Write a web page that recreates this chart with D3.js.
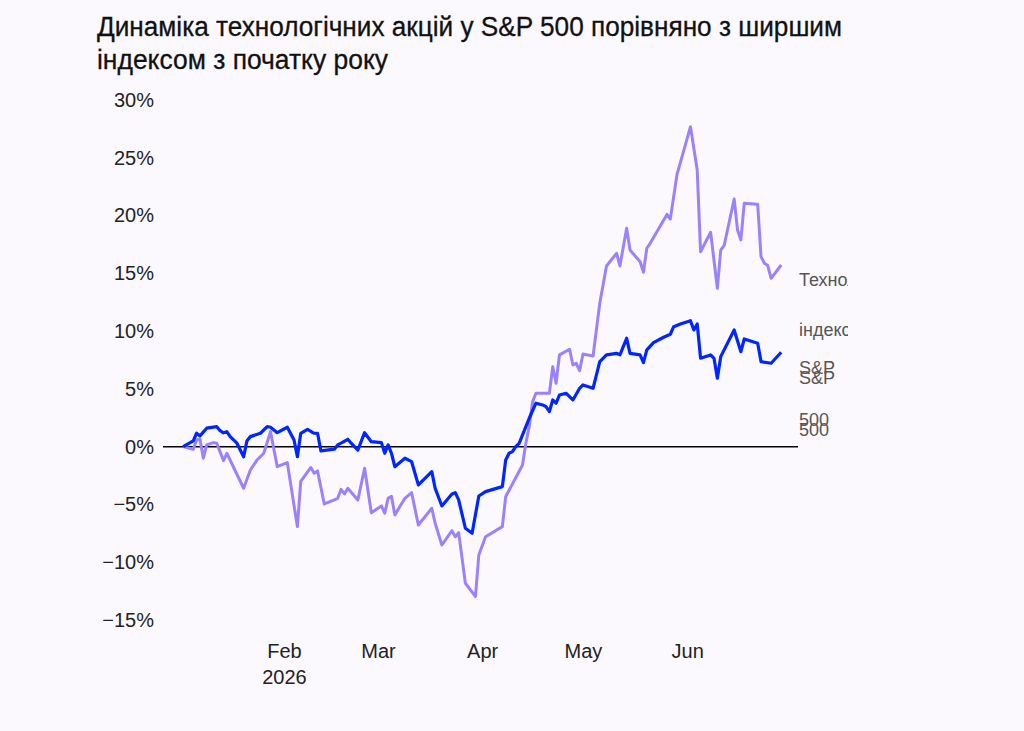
<!DOCTYPE html>
<html>
<head>
<meta charset="utf-8">
<script src="https://cdn.jsdelivr.net/npm/d3@7"></script>
<style>
  html, body { margin: 0; padding: 0; background: #fbf9fe; }
  svg { display: block; font-family: "Liberation Sans", Arial, sans-serif; }
</style>
</head>
<body>
<svg id="chart" width="1024" height="731"></svg>
<script>
// technology stocks (purple)
const techDates = ['2026-01-02','2026-01-05','2026-01-06','2026-01-07','2026-01-08','2026-01-09','2026-01-11','2026-01-12','2026-01-14','2026-01-15',
  '2026-01-20','2026-01-22','2026-01-24','2026-01-26','2026-01-28','2026-01-30','2026-02-02','2026-02-05','2026-02-06','2026-02-09',
  '2026-02-10','2026-02-11','2026-02-13','2026-02-16','2026-02-17','2026-02-18','2026-02-19','2026-02-20','2026-02-23','2026-02-25',
  '2026-02-27','2026-03-02','2026-03-03','2026-03-04','2026-03-05','2026-03-06','2026-03-09','2026-03-11','2026-03-13','2026-03-17',
  '2026-03-18','2026-03-20','2026-03-23','2026-03-24','2026-03-25','2026-03-27','2026-03-30','2026-03-31','2026-04-02','2026-04-07',
  '2026-04-08','2026-04-13','2026-04-14','2026-04-15','2026-04-16','2026-04-17','2026-04-21','2026-04-22','2026-04-23','2026-04-24',
  '2026-04-27','2026-04-28','2026-04-29','2026-04-30','2026-05-01','2026-05-04','2026-05-06','2026-05-08','2026-05-11','2026-05-12',
  '2026-05-14','2026-05-15','2026-05-18','2026-05-19','2026-05-20','2026-05-21','2026-05-23','2026-05-26','2026-05-27','2026-05-29',
  '2026-06-02','2026-06-04','2026-06-05','2026-06-08','2026-06-10','2026-06-11','2026-06-12','2026-06-15','2026-06-16','2026-06-17',
  '2026-06-18','2026-06-22','2026-06-23','2026-06-24','2026-06-25','2026-06-26','2026-06-29'];
const techValues = [0, -0.22, 0.58, 0.64, -1.0, 0.15, 0.35, 0.29, -1.21, -0.57,
  -3.6, -2.02, -1.15, -0.57, 1.3, -1.73, -1.38, -6.92, -3.0, -1.8,
  -2.3, -2.1, -4.96, -4.61, -4.47, -3.69, -4.09, -3.6, -4.61, -1.87,
  -5.71, -5.13, -5.76, -4.47, -4.3, -5.9, -4.47, -3.98, -6.78, -5.33,
  -6.63, -8.51, -7.27, -7.79, -7.44, -11.82, -12.98, -9.37, -7.79, -6.92,
  -4.33, -1.58, 0.29, 1.73, 3.89, 4.62, 4.62, 6.92, 5.49, 7.94,
  8.43, 7.07, 7.21, 6.58, 8.02, 7.85, 12.41, 15.64, 16.73, 15.64,
  18.9, 17.02, 16.0, 15.09, 17.17, 17.6, 18.6, 20.1, 19.7, 23.57,
  27.69, 23.94, 16.87, 18.55, 13.7, 17.02, 17.39, 21.43, 18.75, 17.89,
  21.06, 20.98, 16.44, 15.87, 15.67, 14.57, 15.72];

// broad index (blue)
const spxDates = ['2026-01-02','2026-01-05','2026-01-06','2026-01-07','2026-01-09','2026-01-12','2026-01-13','2026-01-14','2026-01-15','2026-01-16',
  '2026-01-18','2026-01-20','2026-01-21','2026-01-22','2026-01-25','2026-01-27','2026-01-28','2026-01-30','2026-02-02','2026-02-04',
  '2026-02-05','2026-02-06','2026-02-08','2026-02-10','2026-02-11','2026-02-12','2026-02-16','2026-02-17','2026-02-18','2026-02-20',
  '2026-02-21','2026-02-23','2026-02-25','2026-02-27','2026-03-02','2026-03-03','2026-03-04','2026-03-05','2026-03-06','2026-03-09',
  '2026-03-11','2026-03-13','2026-03-17','2026-03-18','2026-03-20','2026-03-23','2026-03-24','2026-03-25','2026-03-27','2026-03-29',
  '2026-03-31','2026-04-02','2026-04-07','2026-04-08','2026-04-09','2026-04-10','2026-04-11','2026-04-12','2026-04-14','2026-04-15',
  '2026-04-17','2026-04-19','2026-04-20','2026-04-21','2026-04-22','2026-04-23','2026-04-24','2026-04-26','2026-04-28','2026-04-30',
  '2026-05-01','2026-05-04','2026-05-06','2026-05-08','2026-05-11','2026-05-12','2026-05-14','2026-05-15','2026-05-18','2026-05-19',
  '2026-05-20','2026-05-22','2026-05-25','2026-05-27','2026-05-28','2026-05-30','2026-06-02','2026-06-03','2026-06-04','2026-06-05',
  '2026-06-08','2026-06-09','2026-06-10','2026-06-11','2026-06-15','2026-06-17','2026-06-18','2026-06-22','2026-06-23','2026-06-26',
  '2026-06-29'];
const spxValues = [0, 0.5, 1.16, 0.93, 1.6, 1.73, 1.38, 1.2, 1.3, 0.87,
  0.3, -0.87, 0.52, 0.87, 1.16, 1.73, 1.68, 1.21, 1.68, 0.58,
  -0.87, 1.16, 1.5, 1.16, 1.16, -0.37, -0.22, 0.15, 0.3, 0.64,
  0.3, -0.29, 1.21, 0.43, 0.35, -0.57, 0.15, -0.57, -1.73, -1.0,
  -1.3, -3.31, -2.16, -3.6, -5.13, -4.09, -3.98, -4.61, -7.06, -7.49,
  -4.27, -3.89, -3.46, -1.15, -0.57, -0.43, 0, 0.29, 1.73, 2.46,
  3.76, 3.61, 3.46, 3.03, 4.04, 3.76, 4.47, 4.62, 4.04, 5.05,
  5.34, 5.05, 7.36, 7.94, 8.08, 7.94, 9.38, 8.08, 7.94, 7.27,
  8.37, 9.0, 9.47, 9.73, 10.38, 10.62, 10.9, 10.1, 10.62, 7.65,
  7.94, 7.65, 5.92, 7.79, 10.1, 8.22, 9.32, 8.95, 7.36, 7.22,
  8.17];

const yTicks = [30, 25, 20, 15, 10, 5, 0, -5, -10, -15];
const monthTicks = ['2026-02-01', '2026-03-01', '2026-04-01', '2026-05-01', '2026-06-01'];
const titleLines = ['Динаміка технологічних акцій у S&P 500 порівняно з ширшим', 'індексом з початку року'];
const techLabel = ['Технологічний', 'індекс', 'S&P', '500'];
const spxLabel = ['S&P', '500'];

const parse = d3.timeParse('%Y-%m-%d');
const tech = techDates.map((d, i) => ({ date: parse(d), value: techValues[i] }));
const spx = spxDates.map((d, i) => ({ date: parse(d), value: spxValues[i] }));

const svg = d3.select('#chart');

svg.append('rect').attr('width', 1024).attr('height', 731).attr('fill', '#fbf9fe');

// title
const titleW = [745, 291];
titleLines.forEach((t, i) => {
  svg.append('text')
    .attr('x', 97)
    .attr('y', 36 + i * 33)
    .attr('font-size', 27)
    .attr('fill', '#111')
    .attr('stroke', '#111')
    .attr('stroke-width', 0.3)
    .attr('textLength', titleW[i])
    .attr('lengthAdjust', 'spacingAndGlyphs')
    .text(t);
});

const x = d3.scaleTime()
  .domain([parse('2025-12-27'), parse('2026-07-04')])
  .range([163, 798]);
const y = d3.scaleLinear()
  .domain([-15, 30])
  .range([620, 100]);

// y axis labels
const yAxis = d3.axisLeft(y)
  .tickValues(yTicks)
  .tickSize(0)
  .tickPadding(0)
  .tickFormat(d => (d < 0 ? '\u2212' + Math.abs(d) : d) + '%');
const gy = svg.append('g')
  .attr('transform', 'translate(154,0)')
  .call(yAxis);
gy.select('.domain').remove();
gy.selectAll('text')
  .attr('font-size', 20)
  .attr('fill', '#222')
  .attr('font-family', '"Liberation Sans", Arial, sans-serif');

// x axis labels
const xAxis = d3.axisBottom(x)
  .tickValues(monthTicks.map(parse))
  .tickSize(0)
  .tickPadding(0)
  .tickFormat(d3.timeFormat('%b'));
const gx = svg.append('g')
  .attr('transform', 'translate(0,644)')
  .call(xAxis);
gx.select('.domain').remove();
gx.selectAll('text')
  .attr('font-size', 20)
  .attr('fill', '#222')
  .attr('font-family', '"Liberation Sans", Arial, sans-serif');
gx.selectAll('.tick')
  .filter((d, i) => i === 0)
  .append('text')
  .attr('y', 26)
  .attr('dy', '0.71em')
  .attr('text-anchor', 'middle')
  .attr('font-size', 20)
  .attr('fill', '#222')
  .text('2026');

// zero line
svg.append('line')
  .attr('x1', x.range()[0])
  .attr('x2', x.range()[1])
  .attr('y1', y(0))
  .attr('y2', y(0))
  .attr('stroke', '#000')
  .attr('stroke-width', 1.5);

const line = d3.line()
  .x(d => x(d.date))
  .y(d => y(d.value));

svg.append('path')
  .datum(tech)
  .attr('fill', 'none')
  .attr('stroke', '#9a82fb')
  .attr('stroke-width', 3)
  .attr('stroke-linejoin', 'round')
  .attr('d', line);

svg.append('path')
  .datum(spx)
  .attr('fill', 'none')
  .attr('stroke', '#0025ff')
  .attr('stroke-width', 3.2)
  .attr('stroke-linejoin', 'round')
  .attr('d', line);

// end labels, clipped like the original
svg.append('clipPath')
  .attr('id', 'labelClip')
  .append('rect')
  .attr('x', 795)
  .attr('y', 200)
  .attr('width', 53)
  .attr('height', 300);

const labels = svg.append('g').attr('clip-path', 'url(#labelClip)');
function endLabel(lines, last, lineGap) {
  const ty = y(last.value) + 15;
  lines.forEach((t, i) => {
    labels.append('text')
      .attr('x', 799)
      .attr('y', ty + i * lineGap[i])
      .attr('dy', '0.35em')
      .attr('font-size', 18)
      .attr('fill', '#555')
      .text(t);
  });
}
endLabel(techLabel, tech[tech.length - 1], [0, 50, 49, 50]);
endLabel(spxLabel, spx[spx.length - 1], [0, 52]);
</script>
</body>
</html>
